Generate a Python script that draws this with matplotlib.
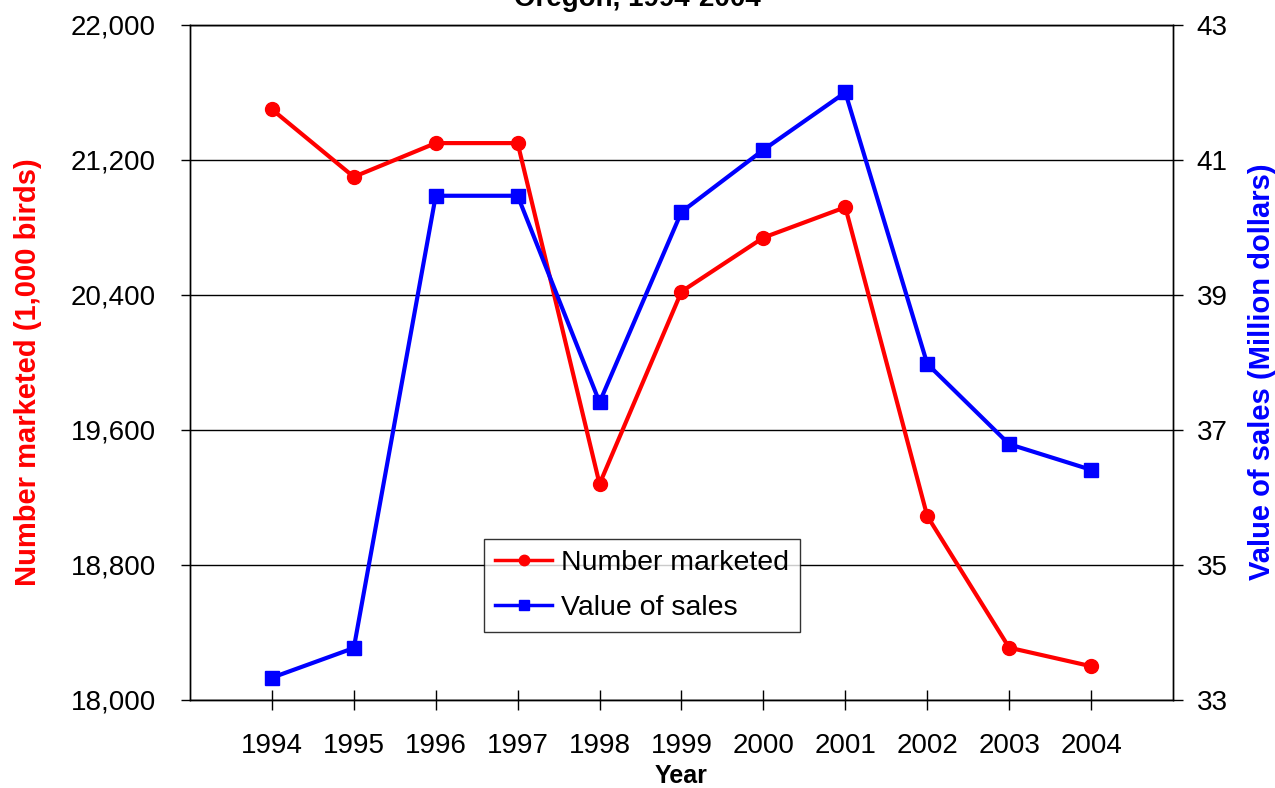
import matplotlib
matplotlib.use('Agg')
import matplotlib.pyplot as plt
from matplotlib.ticker import FuncFormatter

plt.rcParams['font.family'] = ['Liberation Sans', 'DejaVu Sans']

years = [1994, 1995, 1996, 1997, 1998, 1999, 2000, 2001, 2002, 2003, 2004]
number_marketed = [21500, 21100, 21300, 21300, 19280, 20420, 20740, 20920, 19090, 18310, 18200]
value_of_sales = [33.33, 33.77, 40.47, 40.47, 37.41, 40.23, 41.15, 42.0, 37.98, 36.79, 36.41]
left_ticks = [18000, 18800, 19600, 20400, 21200, 22000]
right_ticks = [33, 35, 37, 39, 41, 43]

fig = plt.figure(figsize=(12.75, 7.88), dpi=100)
ax = fig.add_axes([0.149, 0.1117, 0.771, 0.8566])
ax2 = ax.twinx()

l1, = ax.plot(years, number_marketed, color='#ff0000', lw=3, marker='o', ms=10,
              label='Number marketed', zorder=3)
l2, = ax2.plot(years, value_of_sales, color='#0000ff', lw=3, marker='s', ms=9.5,
               label='Value of sales', zorder=3)

ax.set_xlim(1993, 2005)
ax.set_ylim(18000, 22000)
ax2.set_ylim(33, 43)
ax.set_xticks(years)
ax.set_yticks(left_ticks)
ax2.set_yticks(right_ticks)
ax.yaxis.set_major_formatter(FuncFormatter(lambda v, p: f'{int(v):,}'))
ax.grid(axis='y', color='black', lw=1)
ax.set_axisbelow(True)

ax.tick_params(axis='x', direction='inout', length=14, width=1, labelsize=20, pad=17)
ax.tick_params(axis='y', direction='out', length=6.5, width=1, labelsize=20, pad=18)
ax2.tick_params(axis='y', direction='out', length=7, width=1, labelsize=20, pad=10)

for a in (ax, ax2):
    for s in a.spines.values():
        s.set_color('black')
        s.set_linewidth(1)

ax.set_xlabel('Year', fontsize=18, fontweight='bold', va='center')
ax.xaxis.set_label_coords(0.5, -0.1126)
ax.set_ylabel('Number marketed (1,000 birds)', fontsize=21, fontweight='bold',
              color='#ff0000', va='center')
ax.yaxis.set_label_coords(-0.165, 0.486)
ax2.set_ylabel('Value of sales (Million dollars)', fontsize=21, fontweight='bold',
               color='#0000ff', va='center')
ax2.yaxis.set_label_coords(1.0905, 0.487)

# title sits partly above the top edge, as in the source image
fig.text(0.5, 1 - 6 / 788, 'Oregon, 1994-2004', ha='center', va='baseline',
         fontsize=20, fontweight='bold')

leg = ax2.legend(handles=[l1, l2], loc='lower left', bbox_to_anchor=(0.299, 0.1007),
                 borderaxespad=0, fontsize=20.5, frameon=True, fancybox=False,
                 edgecolor='black', handlelength=2.0, borderpad=0.4, labelspacing=0.65,
                 handletextpad=0.3, markerscale=0.75)
leg.get_frame().set_linewidth(1)
for h in leg.legend_handles:
    h.set_linewidth(2.5)

fig.savefig('out.png', dpi=100)
